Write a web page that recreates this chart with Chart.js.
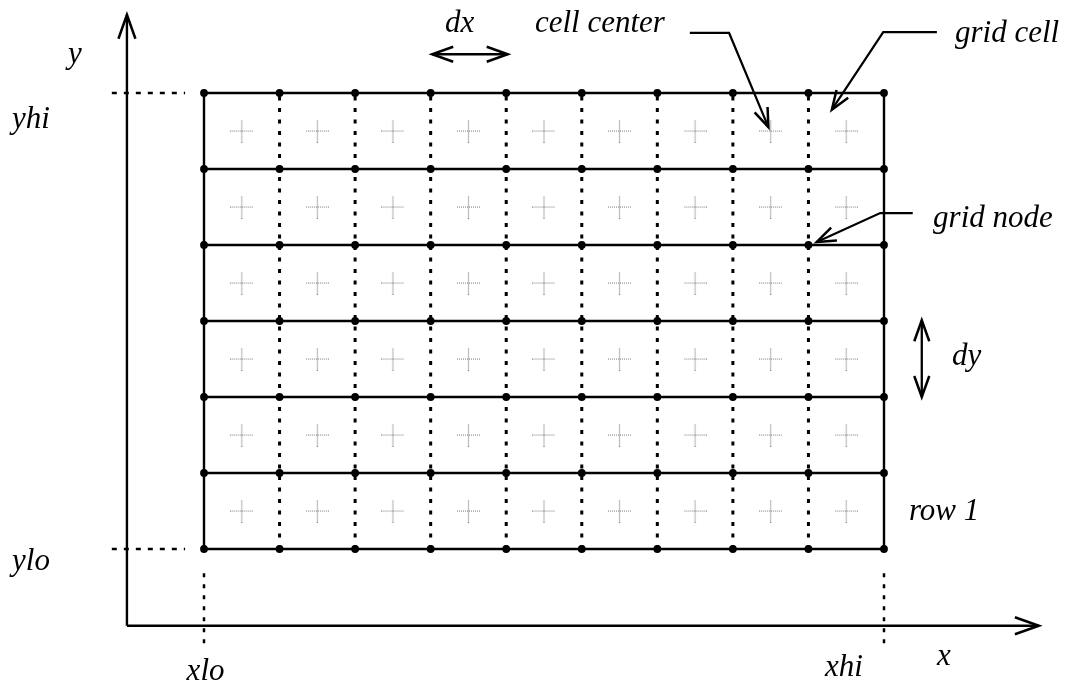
<!DOCTYPE html>
<html>
<head>
<meta charset="utf-8">
<title>grid</title>
<script src="https://cdn.jsdelivr.net/npm/chart.js@4.4.1/dist/chart.umd.min.js"></script>
<style>
  html, body { margin: 0; padding: 0; background: #fff; }
  #wrap { width: 1070px; height: 686px; position: relative; }
</style>
</head>
<body>
<div id="wrap"><canvas id="grid"></canvas></div>
<script>
// grid in cell units: 9 columns (xlo..xhi), 6 rows (ylo..yhi)
var xNodes = [0, 1, 2, 3, 4, 5, 6, 7, 8, 9];
var yNodes = [0, 1, 2, 3, 4, 5, 6];
var xCenters = [0.5, 1.5, 2.5, 3.5, 4.5, 5.5, 6.5, 7.5, 8.5];
var yCenters = [0.5, 1.5, 2.5, 3.5, 4.5, 5.5];

// coordinate axes (origin and arrow tips)
var axisOrigin = {x: -1.02, y: -1.01};
var axisTipX = 11.05;
var axisTipY = 7.03;

// annotation texts and anchors (left, baseline)
var labelText = ['y', 'yhi', 'ylo', 'xlo', 'xhi', 'x', 'dx', 'cell center', 'grid cell', 'grid node', 'dy', 'row 1'];
var labelX = [-1.80, -2.54, -2.54, -0.23, 8.22, 9.70, 3.19, 4.38, 9.94, 9.65, 9.90, 9.33];
var labelY = [6.40, 5.54, -0.28, -1.72, -1.67, -1.53, 6.80, 6.80, 6.67, 4.24, 2.42, 0.38];

// leader arrows (last point is the arrow tip)
var leaderCellCenter = [{x: 6.43, y: 6.79}, {x: 6.95, y: 6.79}, {x: 7.47, y: 5.55}];
var leaderGridCell = [{x: 9.70, y: 6.80}, {x: 8.99, y: 6.80}, {x: 8.31, y: 5.78}];
var leaderGridNode = [{x: 9.38, y: 4.42}, {x: 8.95, y: 4.42}, {x: 8.11, y: 4.04}];
var spanDx = [{x: 3.02, y: 6.51}, {x: 4.02, y: 6.51}];
var spanDy = [{x: 9.50, y: 3.01}, {x: 9.50, y: 2.00}];

var serif = '"Liberation Serif", "Times New Roman", serif';

function makeCross() {
    var c = document.createElement('canvas');
    c.width = 23; c.height = 23;
    var g = c.getContext('2d');
    g.strokeStyle = '#7a7a7a';
    g.lineWidth = 1.2;
    g.setLineDash([1, 1]);
    g.beginPath();
    g.moveTo(0, 11.5); g.lineTo(23, 11.5);
    g.moveTo(11.5, 0); g.lineTo(11.5, 23);
    g.stroke();
    return c;
}

function seg(points, width, dash, extra) {
    var ds = {
        data: points,
        showLine: true,
        pointRadius: 0,
        borderColor: '#000',
        borderWidth: width,
        borderDash: dash || [],
        borderCapStyle: 'butt',
        fill: false,
        tension: 0
    };
    if (extra) for (var k in extra) ds[k] = extra[k];
    return ds;
}

var nodes = [];
xNodes.forEach(function(x) { yNodes.forEach(function(y) { nodes.push({x: x, y: y}); }); });
var centers = [];
xCenters.forEach(function(x) { yCenters.forEach(function(y) { centers.push({x: x, y: y}); }); });

var datasets = [];
datasets.push({
    data: nodes, showLine: false, pointRadius: 3.9,
    pointBackgroundColor: '#000', pointBorderColor: '#000', pointBorderWidth: 0
});
datasets.push({
    data: centers, showLine: false, pointRadius: 5, pointStyle: makeCross()
});
var x0 = xNodes[0], x1 = xNodes[xNodes.length - 1];
var y0 = yNodes[0], y1 = yNodes[yNodes.length - 1];
yNodes.forEach(function(y) {
    datasets.push(seg([{x: x0, y: y}, {x: x1, y: y}], 2.6));
});
xNodes.forEach(function(x, i) {
    var edge = (i === 0 || i === xNodes.length - 1);
    datasets.push(seg([{x: x, y: y0}, {x: x, y: y1}], edge ? 2.4 : 3, edge ? [] : [4, 7.5]));
});
// dotted guides for xlo, xhi, ylo, yhi
[y0, y1].forEach(function(y) {
    datasets.push(seg([{x: -1.22, y: y}, {x: -0.25, y: y}], 2.5, [5, 7]));
});
[x0, x1].forEach(function(x) {
    datasets.push(seg([{x: x, y: -0.32}, {x: x, y: -1.27}], 2.5, [4, 7]));
});
// axes
datasets.push(seg([axisOrigin, {x: axisOrigin.x, y: axisTipY}], 2.4, null, {arrowEnd: [24, 8.5]}));
datasets.push(seg([axisOrigin, {x: axisTipX, y: axisOrigin.y}], 2.6, null, {arrowEnd: [24, 8.5]}));
// span arrows and leaders
datasets.push(seg(spanDx, 2.3, null, {arrowEnd: [21, 7.5], arrowStart: [21, 7.5]}));
datasets.push(seg(spanDy, 2.3, null, {arrowEnd: [21, 7.5], arrowStart: [21, 7.5]}));
[leaderCellCenter, leaderGridCell, leaderGridNode].forEach(function(p) {
    datasets.push(seg(p, 2.2, null, {arrowEnd: [19, 7]}));
});

function drawHead(ctx, tip, from, len, half) {
    var dx = tip.x - from.x, dy = tip.y - from.y;
    var d = Math.sqrt(dx * dx + dy * dy) || 1;
    var ux = dx / d, uy = dy / d;
    var bx = tip.x - ux * len, by = tip.y - uy * len;
    ctx.beginPath();
    ctx.moveTo(bx - uy * half, by + ux * half);
    ctx.lineTo(tip.x, tip.y);
    ctx.lineTo(bx + uy * half, by - ux * half);
    ctx.stroke();
}

var decorations = {
    id: 'decorations',
    afterDatasetsDraw: function(chart) {
        var ctx = chart.ctx;
        ctx.save();
        ctx.strokeStyle = '#000';
        ctx.lineWidth = 2.5;
        ctx.lineJoin = 'miter';
        ctx.setLineDash([]);
        chart.data.datasets.forEach(function(ds, i) {
            if (!ds.arrowEnd && !ds.arrowStart) return;
            var pts = chart.getDatasetMeta(i).data;
            var n = pts.length;
            if (ds.arrowEnd) drawHead(ctx, pts[n - 1], pts[n - 2], ds.arrowEnd[0], ds.arrowEnd[1]);
            if (ds.arrowStart) drawHead(ctx, pts[0], pts[1], ds.arrowStart[0], ds.arrowStart[1]);
        });
        var sx = chart.scales.x, sy = chart.scales.y;
        ctx.fillStyle = '#000';
        ctx.font = 'italic 31px ' + serif;
        ctx.textAlign = 'left';
        ctx.textBaseline = 'alphabetic';
        labelText.forEach(function(t, i) {
            ctx.fillText(t, sx.getPixelForValue(labelX[i]), sy.getPixelForValue(labelY[i]));
        });
        ctx.restore();
    }
};

new Chart(document.getElementById('grid').getContext('2d'), {
    type: 'scatter',
    data: {datasets: datasets},
    options: {
        responsive: true,
        maintainAspectRatio: false,
        animation: false,
        layout: {padding: 0, autoPadding: false},
        plugins: {legend: {display: false}, tooltip: {enabled: false}},
        scales: {
            x: {type: 'linear', display: false, min: -2.7, max: 11.4618},
            y: {type: 'linear', display: false, min: -1.8026, max: 7.2237}
        }
    },
    plugins: [decorations]
});
</script>
</body>
</html>
